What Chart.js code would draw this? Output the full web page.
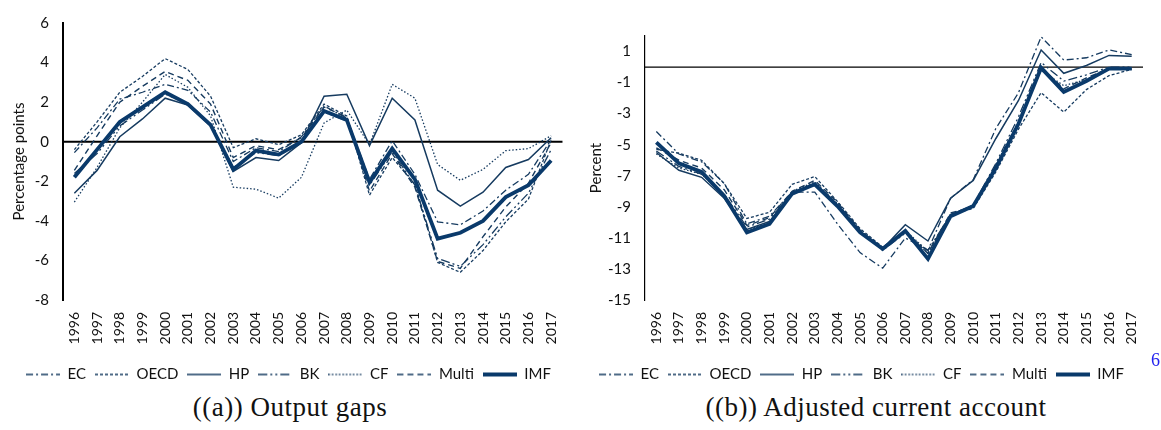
<!DOCTYPE html>
<html><head><meta charset="utf-8">
<script src="https://cdn.jsdelivr.net/npm/chart.js@4.4.1/dist/chart.umd.min.js"></script>
<style>
html,body{margin:0;padding:0;background:#fff;width:1161px;height:430px;overflow:hidden;}
#wa{position:absolute;left:0;top:0;width:580px;height:392px;}
#wb{position:absolute;left:580px;top:0;width:581px;height:392px;}
.cap{position:absolute;top:392px;font-family:'Liberation Serif','DejaVu Serif',serif;font-size:27px;letter-spacing:0.5px;color:#111;transform:translateX(-50%);white-space:nowrap;}
#pg{position:absolute;left:1151px;top:350px;font-family:'Liberation Serif','DejaVu Serif',serif;font-size:18px;color:#2222ee;}
</style></head><body>
<div id="wa"><canvas id="ca" width="580" height="392"></canvas></div>
<div id="wb"><canvas id="cb" width="581" height="392"></canvas></div>
<div class="cap" style="left:290px">((a)) Output gaps</div>
<div class="cap" style="left:876px">((b)) Adjusted current account</div>
<div id="pg">6</div>
<script>
const years = ['1996','1997','1998','1999','2000','2001','2002','2003','2004','2005','2006','2007','2008','2009','2010','2011','2012','2013','2014','2015','2016','2017'];
const seriesNames = ['EC','OECD','HP','BK','CF','Multi','IMF'];

// (a) Output gaps, percentage points
const gapEC    = [-0.55, 0.7, 2.15, 2.5, 2.9, 2.6, 1.5, -1.0, -0.3, -0.5, 0.25, 1.8, 1.2, -1.9, 0.05, -1.65, -4.05, -4.2, -3.5, -2.45, -1.65, 0.1];
const gapOECD  = [-0.4, 1.0, 2.5, 3.3, 4.2, 3.65, 2.3, -0.3, 0.15, -0.15, 0.35, 1.9, 1.3, -2.7, -0.8, -2.15, -6.1, -6.6, -5.5, -4.05, -2.9, 0.1];
const gapHP    = [-2.6, -1.45, 0.25, 1.15, 2.2, 1.85, 0.8, -1.5, -0.8, -0.95, -0.05, 2.3, 2.4, -0.2, 2.2, 1.1, -2.45, -3.25, -2.55, -1.3, -0.9, 0.2];
const gapBK    = [-1.6, -0.6, 0.8, 1.6, 2.4, 1.95, 0.9, -1.3, -0.55, -0.7, -0.05, 1.5, 1.05, -2.2, -0.5, -2.2, -5.9, -6.3, -5.2, -3.8, -2.6, -0.4];
const gapCF    = [-3.05, -1.3, 0.7, 2.0, 3.4, 2.75, 1.3, -2.3, -2.4, -2.85, -1.8, 0.95, 1.6, -0.15, 2.9, 2.2, -1.15, -1.95, -1.4, -0.45, -0.35, 0.3];
const gapMulti = [-1.45, 0.3, 2.0, 2.8, 3.55, 3.1, 1.9, -0.8, -0.2, -0.4, 0.2, 1.75, 1.25, -2.5, -0.6, -2.3, -6.05, -6.4, -4.8, -3.3, -2.1, -0.05];
const gapIMF   = [-1.8, -0.4, 1.0, 1.75, 2.5, 1.9, 0.85, -1.4, -0.45, -0.65, 0.0, 1.55, 1.1, -2.05, -0.35, -1.9, -4.9, -4.6, -4.0, -2.8, -2.2, -0.95];

// (b) Adjusted current account, percent
const caEC    = [-4.15, -5.6, -6.1, -7.5, -10.1, -9.6, -8.05, -8.05, -10.1, -11.95, -12.95, -11.0, -11.8, -8.45, -7.25, -3.95, -1.65, 1.95, 0.45, 0.6, 1.1, 0.8];
const caOECD  = [-5.3, -5.55, -6.0, -7.5, -9.75, -9.35, -7.55, -7.05, -8.65, -10.4, -11.6, -10.6, -12.0, -9.5, -9.1, -6.75, -4.0, -1.65, -2.9, -1.45, -0.55, -0.15];
const caHP    = [-5.5, -6.65, -7.1, -8.45, -10.45, -9.95, -8.1, -7.6, -8.9, -10.6, -11.7, -10.15, -11.2, -8.45, -7.3, -4.6, -2.15, 1.1, -0.4, 0.1, 0.75, 0.7];
const caBK    = [-5.4, -6.4, -6.9, -8.2, -10.3, -9.8, -8.1, -7.5, -8.8, -10.5, -11.8, -10.7, -11.8, -9.5, -8.9, -6.2, -3.2, 0.3, -0.9, -0.5, 0.0, 0.0];
const caCF    = [-5.6, -6.5, -6.9, -8.3, -10.5, -10.0, -8.0, -7.4, -8.8, -10.5, -11.8, -10.5, -11.9, -9.5, -8.9, -6.3, -3.5, -0.2, -1.2, -0.8, -0.1, -0.1];
const caMulti = [-5.2, -6.0, -6.5, -7.9, -10.2, -9.7, -8.0, -7.3, -8.7, -10.5, -11.7, -10.6, -12.0, -9.4, -9.0, -6.4, -3.6, 0.0, -1.4, -0.7, -0.1, -0.1];
const caIMF   = [-4.85, -6.2, -6.75, -8.3, -10.65, -10.1, -8.15, -7.55, -8.95, -10.65, -11.7, -10.55, -12.35, -9.6, -8.95, -6.5, -3.65, -0.05, -1.6, -0.9, -0.1, -0.1];

const yTicksA = [-8, -6, -4, -2, 0, 2, 4, 6];
const yTicksB = [-15, -13, -11, -9, -7, -5, -3, -1, 1];

const THIN = '#163b60';
const THICK = '#0a3a6b';
const styles = {
  EC:    {dash: [7, 3, 2, 3], w: 1.3},
  OECD:  {dash: [3, 2], w: 1.3},
  HP:    {dash: [], w: 1.5},
  BK:    {dash: [9, 3, 2, 3, 2, 3], w: 1.3},
  CF:    {dash: [1.5, 2], w: 1.3},
  Multi: {dash: [6, 4], w: 1.4},
  IMF:   {dash: [], w: 3.8}
};
const SAMPLE_W = 34;

function legendSample(n) {
  const c = document.createElement('canvas');
  c.width = SAMPLE_W; c.height = 8;
  const g = c.getContext('2d');
  g.strokeStyle = n === 'IMF' ? THICK : THIN;
  g.lineWidth = n === 'IMF' ? 4 : 1.3;
  g.setLineDash(styles[n].dash);
  g.beginPath(); g.moveTo(0, 4); g.lineTo(SAMPLE_W, 4); g.stroke();
  return c;
}

function makeDatasets(arrs) {
  return seriesNames.map((n, i) => ({
    label: n,
    data: arrs[i],
    borderColor: n === 'IMF' ? THICK : THIN,
    backgroundColor: n === 'IMF' ? THICK : THIN,
    borderWidth: styles[n].w,
    borderDash: styles[n].dash,
    pointRadius: 0,
    pointHoverRadius: 0,
    pointStyle: legendSample(n),
    tension: 0,
    fill: false,
    order: n === 'IMF' ? -1 : i
  }));
}

const zeroLine = {
  id: 'zeroLine',
  beforeDatasetsDraw(chart, args, opts) {
    const {ctx, chartArea: a, scales: {y}} = chart;
    const py = y.getPixelForValue(0);
    ctx.save();
    ctx.strokeStyle = '#000';
    ctx.lineWidth = opts.width;
    ctx.beginPath();
    ctx.moveTo(a.left, py);
    ctx.lineTo(a.right, py);
    ctx.stroke();
    ctx.restore();
  }
};

const FONT = "Lato, 'Open Sans', sans-serif";

function makeChart(id, arrs, ticks, ymin, ymax, title, axisW, zeroW, pad, yw, tpad) {
  return new Chart(document.getElementById(id), {
    type: 'line',
    data: {labels: years, datasets: makeDatasets(arrs)},
    plugins: [zeroLine],
    options: {
      responsive: false,
      animation: false,
      devicePixelRatio: 1,
      events: [],
      layout: {padding: pad},
      plugins: {
        zeroLine: {width: zeroW},
        tooltip: {enabled: false},
        legend: {
          position: 'bottom',
          labels: {
            usePointStyle: true,
            pointStyleWidth: SAMPLE_W,
            color: '#111',
            font: {family: FONT, size: 15},
            padding: 9,
            sort: (a, b) => a.datasetIndex - b.datasetIndex
          }
        }
      },
      scales: {
        x: {
          offset: true,
          grid: {display: false, drawTicks: false},
          border: {display: false},
          ticks: {minRotation: 90, maxRotation: 90, autoSkip: false, padding: 12,
                  color: '#111', font: {family: FONT, size: 14}},
          afterFit: s => { s.height = 58; }
        },
        y: {
          min: ymin, max: ymax,
          grid: {display: false, drawTicks: false},
          border: {display: true, color: '#000', width: axisW},
          afterBuildTicks: s => { s.ticks = ticks.map(v => ({value: v})); },
          ticks: {padding: 14, color: '#111', font: {family: FONT, size: 15}},
          title: {display: true, text: title, color: '#111', font: {family: FONT, size: 15}, padding: {top: tpad, bottom: 0}},
          afterFit: s => { s.width = yw; }
        }
      }
    }
  });
}

makeChart('ca', [gapEC, gapOECD, gapHP, gapBK, gapCF, gapMulti, gapIMF], yTicksA, -8, 6,
  'Percentage points', 2, 2, {top: 22, right: 3, left: 0, bottom: 0}, 63, 10);
makeChart('cb', [caEC, caOECD, caHP, caBK, caCF, caMulti, caIMF], yTicksB, -15, 2,
  'Percent', 1.2, 1.2, {top: 36, right: 18, left: 0, bottom: 0}, 65, 7);
</script>
</body></html>
